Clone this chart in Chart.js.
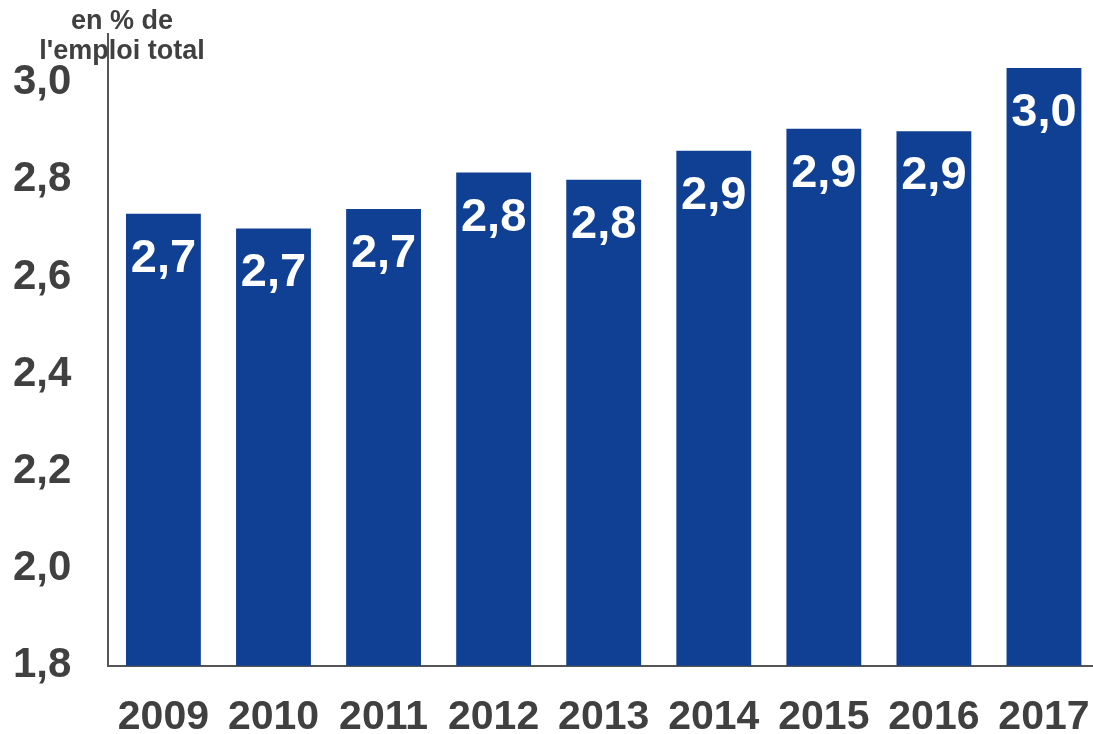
<!DOCTYPE html>
<html>
<head>
<meta charset="utf-8">
<script src="https://cdn.jsdelivr.net/npm/chart.js@4/dist/chart.umd.min.js"></script>
<style>
  html, body { margin: 0; padding: 0; background: #fff; overflow: hidden; }
  #wrap { width: 1100px; height: 750px; }
</style>
</head>
<body>
<div id="wrap"><canvas id="emploiChart"></canvas></div>
<script>
const years = ["2009", "2010", "2011", "2012", "2013", "2014", "2015", "2016", "2017"];
const shares = [2.73, 2.70, 2.74, 2.815, 2.80, 2.86, 2.905, 2.90, 3.03]; // en % de l'emploi total
const titleLines = ["en % de", "l'emploi total"];
const yTicks = [1.8, 2.0, 2.2, 2.4, 2.6, 2.8, 3.0];
const yMin = 1.8, yMax = 3.1;

const fmt = (v) => v.toFixed(1).replace(".", ",");
const FONT = "'Liberation Sans', Arial, sans-serif";

// etiquettes blanches dans le haut des barres
const barLabels = {
  id: "barLabels",
  afterDatasetsDraw(chart) {
    const { ctx } = chart;
    const meta = chart.getDatasetMeta(0);
    ctx.save();
    ctx.fillStyle = "#ffffff";
    ctx.font = "bold 47px " + FONT;
    ctx.textAlign = "center";
    ctx.textBaseline = "alphabetic";
    meta.data.forEach((bar, i) => {
      ctx.fillText(fmt(shares[i]), bar.x, bar.y + 58);
    });
    ctx.restore();
  },
};

// titre de l'axe en haut a gauche
const cornerTitle = {
  id: "cornerTitle",
  afterDraw(chart) {
    const { ctx } = chart;
    ctx.save();
    ctx.fillStyle = "#404040";
    ctx.font = "bold 27px " + FONT;
    ctx.textAlign = "center";
    ctx.textBaseline = "alphabetic";
    ctx.fillText(titleLines[0], 122, 29);
    ctx.fillText(titleLines[1], 122, 59);
    ctx.restore();
  },
};

new Chart(document.getElementById("emploiChart"), {
  type: "bar",
  data: {
    labels: years,
    datasets: [{
      data: shares,
      backgroundColor: "#104093",
      borderWidth: 0,
      categoryPercentage: 1,
      barPercentage: 0.68,
    }],
  },
  options: {
    responsive: true,
    maintainAspectRatio: false,
    animation: false,
    layout: { padding: { left: 13, right: 1, top: 34, bottom: 8 } },
    plugins: {
      legend: { display: false },
      tooltip: { enabled: false },
    },
    scales: {
      x: {
        // tickLength transparent = espace entre l'axe et les annees
        grid: { display: true, drawOnChartArea: false, drawTicks: true, tickLength: 27, color: "transparent" },
        border: { display: true, color: "#555555", width: 2 },
        ticks: {
          color: "#404040",
          padding: 0,
          font: { family: FONT, size: 41, weight: "bold" },
        },
      },
      y: {
        min: yMin,
        max: yMax,
        grid: { display: true, drawOnChartArea: false, drawTicks: true, tickLength: 37, color: "transparent" },
        border: { display: true, color: "#555555", width: 2 },
        afterBuildTicks: (scale) => {
          scale.ticks = yTicks.map((v) => ({ value: v }));
        },
        ticks: {
          color: "#404040",
          padding: 0,
          font: { family: FONT, size: 42, weight: "bold" },
          callback: (v) => fmt(v),
        },
      },
    },
  },
  plugins: [barLabels, cornerTitle],
});
</script>
</body>
</html>
